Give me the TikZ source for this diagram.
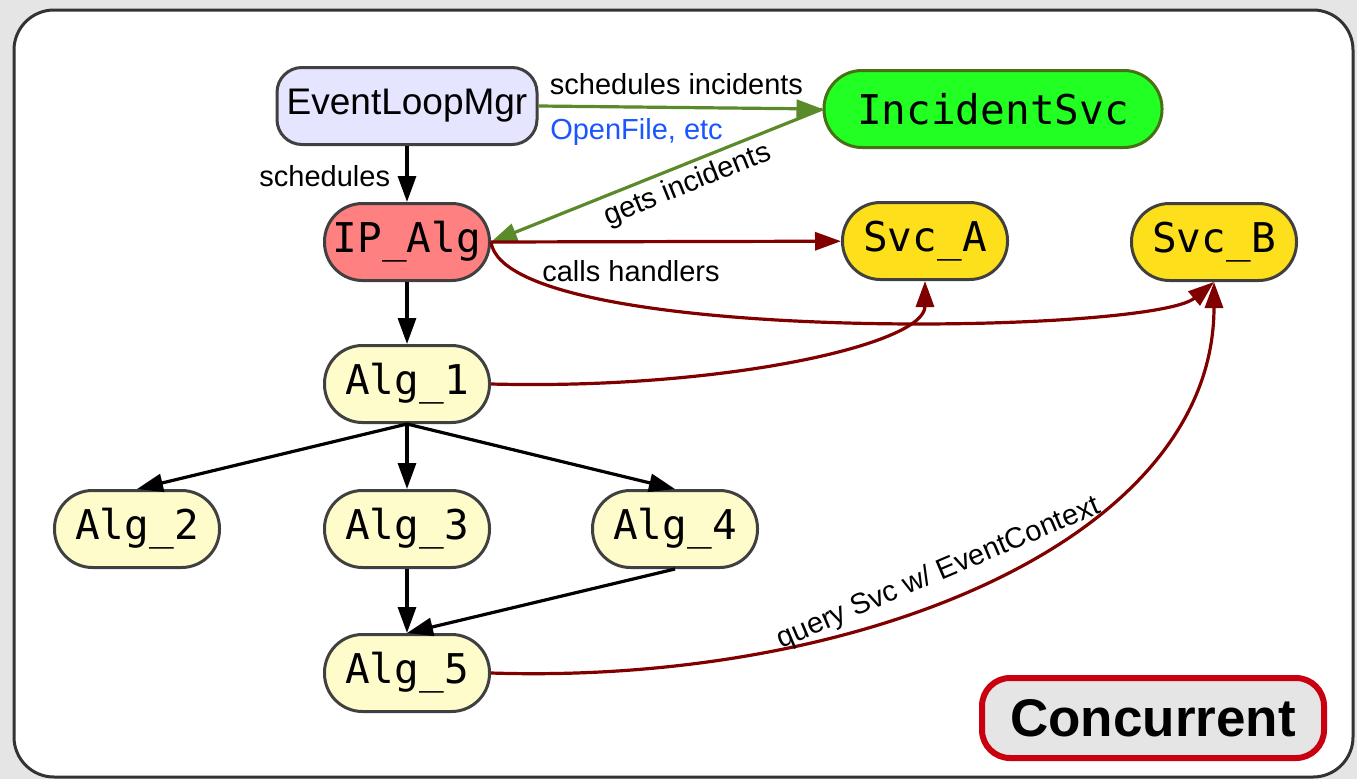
\documentclass[tikz,border=0pt]{standalone}
\usepackage{fontspec}
\setmainfont{Liberation Sans}
\newfontfamily\algfont{DejaVu Sans Mono}
\usetikzlibrary{arrows.meta}

\definecolor{framegray}{HTML}{E5E5E5}
\definecolor{edgegreen}{HTML}{5B8A2B}
\definecolor{edgered}{HTML}{800000}
\definecolor{infoblue}{HTML}{1A56FF}

\begin{document}
\begin{tikzpicture}[x=1pt,y=-1pt,>={Triangle[length=26pt,width=18pt]},line width=3.2pt,
    algnode/.style={draw=black!75,line width=3pt,rounded corners=38pt,minimum width=165pt,minimum height=77pt,inner sep=0pt,font=\algfont\fontsize{41}{41}\selectfont},
    alg/.style={algnode,fill=yellow!20},
    svc/.style={algnode,fill=yellow!80!orange!90!white},
    lbl/.style={font=\fontsize{29}{29}\selectfont}]
        % background and frame
        \useasboundingbox[fill=framegray] (0,0) rectangle (1357,779);
        \draw[black!80,line width=3pt,fill=white,rounded corners=40pt] (14,10) rectangle (1353,777);

        \node[draw=black!75,line width=3pt,fill=blue!10,rounded corners=25pt,minimum width=260pt,minimum height=77pt,inner sep=0pt,
              font=\fontsize{37}{37}\selectfont] (elm) at (407,106) {EventLoopMgr};
        \node[algnode,minimum width=338pt,fill={rgb,255:red,34;green,255;blue,34},draw={rgb,255:red,72;green,112;blue,22}] (inc) at (993,109) {IncidentSvc};
        \node[algnode,fill={rgb,255:red,255;green,128;blue,128}] (ipalg) at (407,242) {IP\_Alg};
        \node[svc] (svca) at (925,241) {Svc\_A};
        \node[svc] (svcb) at (1214,242) {Svc\_B};
        \node[alg] (alg1) at (407,384) {Alg\_1};
        \node[alg] (alg2) at (137,529) {Alg\_2};
        \node[alg] (alg3) at (407,529) {Alg\_3};
        \node[alg] (alg4) at (675,529) {Alg\_4};
        \node[alg] (alg5) at (407,673) {Alg\_5};
        \node[draw={rgb,255:red,200;green,0;blue,16},line width=6pt,fill=framegray,rounded corners=28pt,
              minimum width=342pt,minimum height=80pt,font=\bfseries\fontsize{53}{53}\selectfont] (conc) at (1153,718) {Concurrent};

        % control flow
        \path[->,black] (elm) edge node[lbl,left,xshift=-12pt,yshift=-2pt] {schedules} (ipalg)
                        (ipalg) edge (alg1)
                        (alg1.south) edge (alg2.north)
                        (alg1.south) edge (alg3.north)
                        (alg1.south) edge (alg4.north)
                        (alg3) edge (alg5)
                        (alg4.south) edge (alg5.north);

        % incidents
        \path[->,edgegreen] (elm.east) edge node[lbl,black,above,yshift=8pt,xshift=-4pt] {schedules incidents}
                                            node[lbl,infoblue,below,yshift=-6pt,xshift=-44pt] {OpenFile, etc} (inc.west)
                            (inc.west) edge node[lbl,black,below,sloped,pos=0.43,yshift=-2pt] {gets incidents} (ipalg.east);

        % service calls
        \draw[->,edgered] (ipalg.east) -- (svca)
                          node[lbl,black,pos=0.40,below,yshift=-14pt] {calls handlers};
        \draw[->,edgered] (ipalg.east) ..controls (505,345) and (1150,335).. (svcb.south);
        \draw[->,edgered] (alg1.east) ..controls (720,390) and (925,345).. (svca.south);
        \draw[->,edgered] (alg5.east) ..controls (860,685) and (1214,540).. (svcb.south)
                          node[lbl,black,pos=0.45,above,rotate=23,yshift=8pt] {query Svc w/ EventContext};
\end{tikzpicture}
\end{document}
